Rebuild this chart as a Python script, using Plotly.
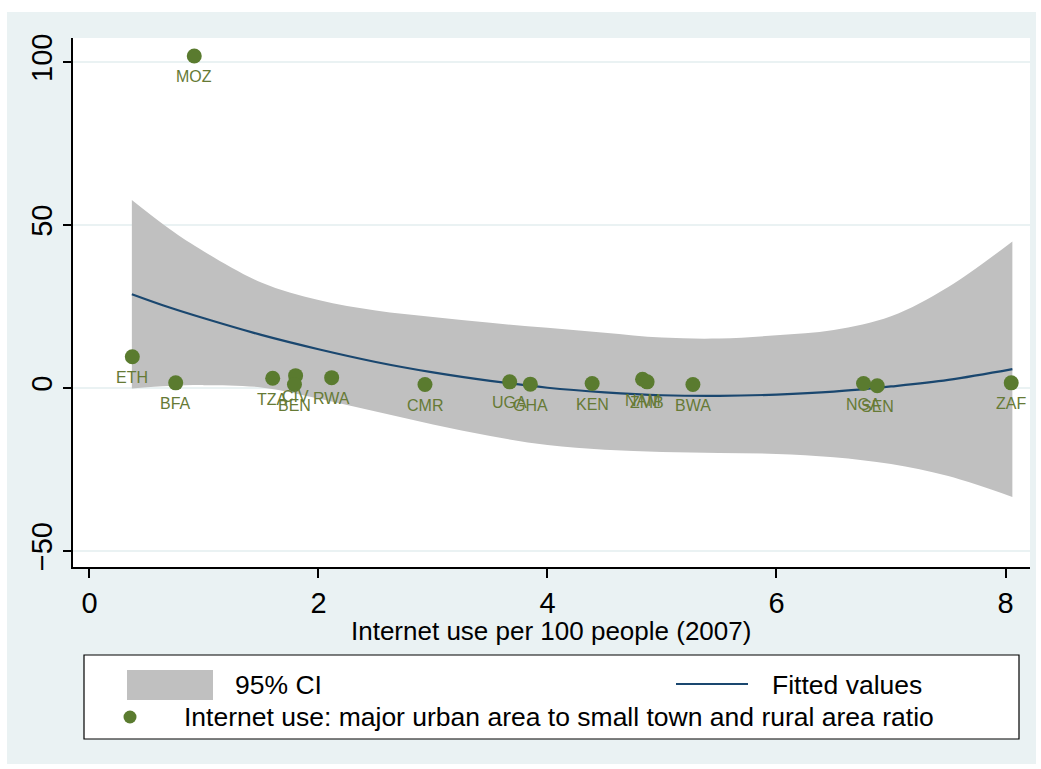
import plotly.graph_objects as go

# ---- data ----
countries = ["MOZ", "ETH", "BFA", "TZA", "CIV", "BEN", "RWA", "CMR", "UGA",
             "GHA", "KEN", "NAM", "ZMB", "BWA", "NGA", "SEN", "ZAF"]
internet_use = [0.915, 0.374, 0.753, 1.60, 1.80, 1.79, 2.115, 2.93, 3.67,
                3.85, 4.39, 4.83, 4.87, 5.27, 6.76, 6.88, 8.05]
urban_rural_ratio = [101.9, 9.6, 1.6, 3.0, 3.8, 1.1, 3.2, 1.1, 1.9,
                     1.2, 1.4, 2.7, 1.9, 1.1, 1.4, 0.7, 1.6]

fit_x = [0.37, 0.7, 1.0, 1.5, 2.0, 2.5, 3.0, 3.5, 4.0, 4.5, 5.0, 5.5,
         6.0, 6.5, 7.0, 7.5, 8.06]
fit_y = [28.8, 24.7, 21.4, 16.3, 11.9, 8.0, 4.8, 2.2, 0.1, -1.3, -2.2, -2.4,
         -2.0, -1.1, 0.5, 2.5, 5.8]
ci_upper = [57.7, 48.8, 41.9, 32.4, 27.0, 23.8, 21.8, 20.0, 18.5, 17.0, 15.5,
            15.2, 16.2, 17.8, 22.0, 31.0, 45.0]
ci_lower = [-0.1, 0.6, 0.9, 0.2, -3.2, -7.2, -11.2, -14.7, -17.5, -18.9, -19.6,
            -19.9, -20.2, -21.2, -23.3, -27.0, -33.4]

x_ticks = [0, 2, 4, 6, 8]
y_ticks = [-50, 0, 50, 100]
x_title = "Internet use per 100 people (2007)"
legend_ci = "95% CI"
legend_fit = "Fitted values"
legend_pts = "Internet use: major urban area to small town and rural area ratio"

# ---- layout geometry (pixels) ----
W, H = 1041, 769
L, R, T, B = 73, 1030, 38, 567


def px(x):
    return (x - L) / (R - L)


def py(y):
    return (B - y) / (B - T)


BG = "#EAF2F3"
GRAY = "#C0C0C0"
NAVY = "#1A476F"
GREEN = "#5A7B2F"
FONT = "Liberation Sans, Arial, sans-serif"

fig = go.Figure()
fig.add_trace(go.Scatter(x=fit_x, y=ci_lower, mode="lines",
                         line=dict(width=0, shape="spline", color=GRAY),
                         hoverinfo="skip", showlegend=False))
fig.add_trace(go.Scatter(x=fit_x, y=ci_upper, mode="lines",
                         line=dict(width=0, shape="spline", color=GRAY),
                         fill="tonexty", fillcolor=GRAY, showlegend=False))
fig.add_trace(go.Scatter(x=fit_x, y=fit_y, mode="lines",
                         line=dict(color=NAVY, width=2.2, shape="spline"),
                         showlegend=False))
fig.add_trace(go.Scatter(x=internet_use, y=urban_rural_ratio, mode="markers",
                         marker=dict(size=15, color=GREEN),
                         showlegend=False))

# country labels, anchored to the data points
for c, xv, yv in zip(countries, internet_use, urban_rural_ratio):
    fig.add_annotation(text=c, x=xv, y=yv, xref="x", yref="y",
                       showarrow=False, xanchor="center", yanchor="middle",
                       yshift=-21, font=dict(family=FONT, size=16, color="#667A35"))

tick_font = dict(family=FONT, size=29, color="black")

fig.update_layout(
    width=W, height=H,
    margin=dict(l=L, r=W - R, t=T, b=H - B, autoexpand=False),
    paper_bgcolor="white", plot_bgcolor="white", showlegend=False,
    xaxis=dict(range=[-0.144, 8.214], tickvals=x_ticks, ticks="outside",
               ticklen=9, tickwidth=1.5, tickcolor="black", showline=True,
               linecolor="black", linewidth=1.5, showgrid=False, zeroline=False,
               tickfont=tick_font),
    yaxis=dict(range=[-54.9, 107.4], tickvals=y_ticks, tickangle=-90,
               ticks="outside", ticklen=8, tickwidth=1.5, tickcolor="black",
               showline=True, linecolor="black", linewidth=1.5,
               showgrid=True, gridcolor=BG, gridwidth=1.5, zeroline=False,
               tickfont=tick_font),
)

shapes = [
    # outer graph region and white plot region
    dict(type="rect", xref="paper", yref="paper", layer="below",
         x0=px(7), x1=px(1036), y0=py(764), y1=py(12),
         fillcolor=BG, line=dict(width=0)),
    dict(type="rect", xref="paper", yref="paper", layer="below",
         x0=0, x1=1, y0=0, y1=1, fillcolor="white", line=dict(width=0)),
    # legend box
    dict(type="rect", xref="paper", yref="paper", layer="above",
         x0=px(84), x1=px(1019), y0=py(739), y1=py(655),
         fillcolor="white", line=dict(color="black", width=1.2)),
    dict(type="rect", xref="paper", yref="paper", layer="above",
         x0=px(127), x1=px(213), y0=py(700), y1=py(670),
         fillcolor=GRAY, line=dict(width=0)),
    dict(type="line", xref="paper", yref="paper", layer="above",
         x0=px(676), x1=px(748), y0=py(684), y1=py(684),
         line=dict(color=NAVY, width=2)),
    dict(type="circle", xref="paper", yref="paper", layer="above",
         x0=px(123.5), x1=px(136.5), y0=py(723.5), y1=py(710.5),
         fillcolor=GREEN, line=dict(width=0)),
]
fig.update_layout(shapes=shapes)

# x-axis title
fig.add_annotation(text=x_title, xref="paper", yref="paper", x=px(551), y=py(631),
                   xanchor="center", yanchor="middle", showarrow=False,
                   font=dict(family=FONT, size=26, color="black"))

for txt, x, y in [(legend_ci, 233, 685), (legend_fit, 770, 685), (legend_pts, 182, 717)]:
    fig.add_annotation(text=txt, xref="paper", yref="paper", x=px(x), y=py(y),
                       xanchor="left", yanchor="middle", showarrow=False,
                       font=dict(family=FONT, size=26.5, color="black"))

fig.write_html("out.html")
